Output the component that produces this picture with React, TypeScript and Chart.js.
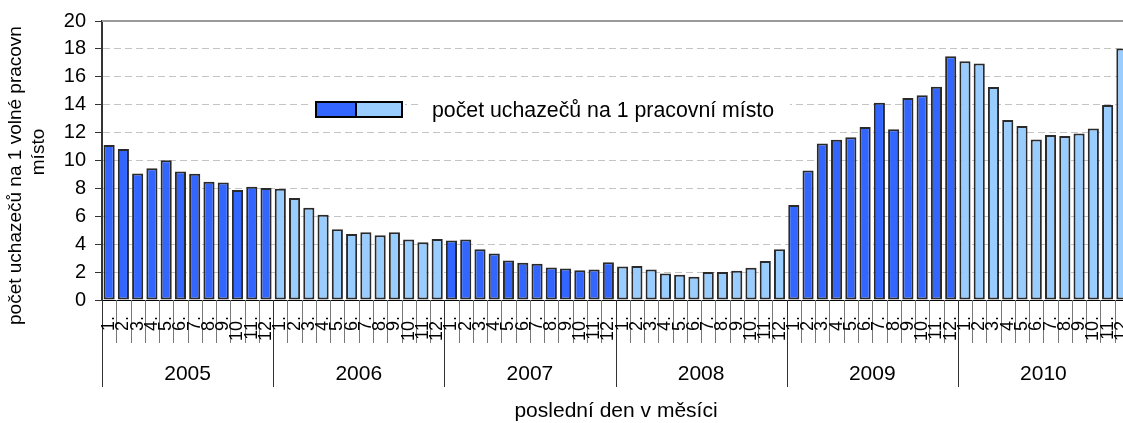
import React, { useEffect, useRef } from "react";
import { Chart, registerables } from "chart.js";

Chart.register(...registerables);

const years = ["2005", "2006", "2007", "2008", "2009", "2010"];
const months = ["1.", "2.", "3.", "4.", "5.", "6.", "7.", "8.", "9.", "10.", "11.", "12."];

const v2005 = [11.12, 10.83, 9.07, 9.45, 10.02, 9.21, 9.05, 8.48, 8.43, 7.88, 8.12, 8.02];
const v2006 = [7.97, 7.31, 6.62, 6.12, 5.07, 4.74, 4.86, 4.64, 4.86, 4.33, 4.14, 4.38];
const v2007 = [4.26, 4.33, 3.64, 3.33, 2.83, 2.67, 2.6, 2.33, 2.26, 2.14, 2.19, 2.71];
const v2008 = [2.4, 2.43, 2.19, 1.9, 1.81, 1.67, 2.0, 2.0, 2.1, 2.31, 2.79, 3.64];
const v2009 = [6.81, 9.29, 11.21, 11.48, 11.67, 12.4, 14.14, 12.24, 14.48, 14.67, 15.29, 17.48];
const v2010 = [17.12, 16.95, 15.26, 12.9, 12.48, 11.5, 11.83, 11.76, 11.93, 12.29, 13.98, 18.02];

const yearValues = [v2005, v2006, v2007, v2008, v2009, v2010];
const yMin = 0;
const yMax = 20;
const yStep = 2;

const yTitleLines = ["počet uchazečů na 1 volné pracovn", "místo"];
const xTitle = "poslední den v měsíci";
const legendLabel = "počet uchazečů na 1 pracovní místo";

const darkBlue = "#3366FF";
const lightBlue = "#99CCFF";
const FONT = "'Liberation Sans', Arial, sans-serif";

const values = yearValues.flat();
const labels = years.flatMap((y) => months.map((m) => `${m} ${y}`));
const barColors = years.flatMap((_, yi) => months.map(() => (yi % 2 === 0 ? darkBlue : lightBlue)));

const decorPlugin = {
  id: "decor",
  afterDraw(chart: any) {
    const { ctx, scales } = chart;
    const x = scales.x;
    const y = scales.y;
    const n = values.length;
    const slot = (x.right - x.left) / n;
    const base = y.getPixelForValue(yMin);
    const top = y.getPixelForValue(yMax);
    ctx.save();

    // top solid line
    ctx.strokeStyle = "#9a9a9a";
    ctx.lineWidth = 2;
    ctx.beginPath();
    ctx.moveTo(x.left, top);
    ctx.lineTo(x.right, top);
    ctx.stroke();

    // slot boundary lines and year separators
    for (let k = 0; k <= n; k++) {
      const px = Math.round((k < n ? x.getPixelForValue(k) - slot / 2 : x.getPixelForValue(n - 1) + slot / 2)) + 0.5;
      const isYear = k % 12 === 0;
      ctx.strokeStyle = isYear ? "#333" : "#777";
      ctx.lineWidth = 1;
      ctx.beginPath();
      ctx.moveTo(px, base);
      ctx.lineTo(px, base + (isYear ? 87 : 43));
      ctx.stroke();
    }

    // month labels, rotated
    ctx.fillStyle = "#000";
    ctx.font = `18px ${FONT}`;
    ctx.textAlign = "right";
    ctx.textBaseline = "middle";
    for (let i = 0; i < n; i++) {
      ctx.save();
      ctx.translate(x.getPixelForValue(i), base + 16);
      ctx.rotate(-Math.PI / 2);
      ctx.fillText(months[i % 12], 0, 0);
      ctx.restore();
    }

    // year labels
    ctx.font = `21px ${FONT}`;
    ctx.textAlign = "center";
    ctx.textBaseline = "middle";
    years.forEach((yr, j) => {
      const cx = (x.getPixelForValue(j * 12) + x.getPixelForValue(j * 12 + 11)) / 2;
      ctx.fillText(yr, cx, base + 74);
    });

    // x title
    ctx.fillText(xTitle, 616, 411);

    // y title
    ctx.font = `19px ${FONT}`;
    ctx.save();
    ctx.translate(16, 325);
    ctx.rotate(-Math.PI / 2);
    ctx.textAlign = "left";
    ctx.fillText(yTitleLines[0], 0, 0);
    ctx.restore();
    ctx.save();
    ctx.translate(39, 152);
    ctx.rotate(-Math.PI / 2);
    ctx.textAlign = "center";
    ctx.fillText(yTitleLines[1], 0, 0);
    ctx.restore();

    // legend
    ctx.fillStyle = "#fff";
    ctx.fillRect(309, 97, 96, 26);
    ctx.fillRect(420, 97, 370, 28);
    ctx.fillStyle = darkBlue;
    ctx.fillRect(316, 102, 40, 15);
    ctx.fillStyle = lightBlue;
    ctx.fillRect(356, 102, 46, 15);
    ctx.strokeStyle = "#000";
    ctx.lineWidth = 2;
    ctx.strokeRect(316, 102, 86, 15);
    ctx.beginPath();
    ctx.moveTo(356, 102);
    ctx.lineTo(356, 117);
    ctx.stroke();
    ctx.fillStyle = "#000";
    ctx.font = `21.3px ${FONT}`;
    ctx.textAlign = "left";
    ctx.textBaseline = "middle";
    ctx.fillText(legendLabel, 432, 111);

    ctx.restore();
  },
};

export default function App() {
  const canvasRef = useRef<HTMLCanvasElement | null>(null);

  useEffect(() => {
    if (!canvasRef.current) return;
    const chart = new Chart(canvasRef.current, {
      type: "bar",
      data: {
        labels,
        datasets: [
          {
            label: legendLabel,
            data: values,
            backgroundColor: barColors,
            borderColor: "#2a2a2a",
            borderWidth: 2,
            borderSkipped: false,
            barPercentage: 0.78,
            categoryPercentage: 1,
          },
        ],
      },
      options: {
        animation: false,
        responsive: false,
        maintainAspectRatio: false,
        layout: { padding: { left: 0, right: 11, top: 20, bottom: 0 } },
        plugins: {
          legend: { display: false },
          tooltip: { enabled: false },
          title: { display: false },
        },
        scales: {
          x: {
            type: "category",
            ticks: { display: false },
            grid: { display: false },
            border: { display: true, color: "#000", width: 1 },
            afterFit: (s: any) => {
              s.height = 123;
            },
          },
          y: {
            min: yMin,
            max: yMax,
            ticks: {
              stepSize: yStep,
              color: "#000",
              font: { size: 20, family: FONT },
              padding: 9,
            },
            grid: {
              color: (c: any) =>
                c.tick && (c.tick.value === yMin || c.tick.value === yMax) ? "rgba(0,0,0,0)" : "#c4c4c4",
              lineWidth: 1,
              tickColor: "#333",
              tickLength: 7,
              tickWidth: 1,
            },
            border: { display: true, color: "#333", width: 2, dash: [7, 4] },
            afterFit: (s: any) => {
              s.width = 102;
            },
          },
        },
      },
      plugins: [decorPlugin],
    });
    return () => chart.destroy();
  }, []);

  return (
    <div
      style={{
        position: "absolute",
        left: 0,
        top: 0,
        width: 1123,
        height: 423,
        overflow: "hidden",
        background: "#fff",
      }}
    >
      <canvas ref={canvasRef} width={1140} height={423} style={{ width: 1140, height: 423, display: "block" }} />
    </div>
  );
}
